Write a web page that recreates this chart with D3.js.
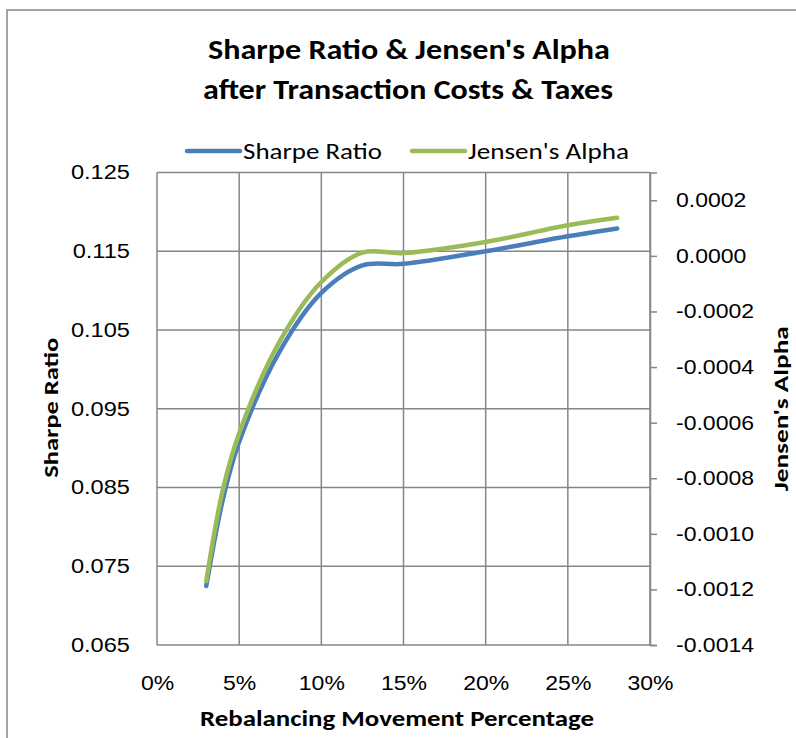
<!DOCTYPE html>
<html>
<head>
  <meta charset="UTF-8">
  <title>Sharpe Ratio & Jensen's Alpha</title>
  <script src="https://d3js.org/d3.v7.min.js"></script>
  <style>
    body { margin: 0; padding: 0; background: #fff; }
    svg { display: block; font-family: Carlito, Calibri, Lato, sans-serif; }
    .grid line { stroke: #868686; stroke-width: 1.5; }
    .axis path, .axis line { stroke: #868686; stroke-width: 1.5; }
    .axis text { font-size: 20px; fill: #000; }
    .line { fill: none; stroke-width: 4.5; stroke-linecap: round; }
  </style>
</head>
<body>
  <div id="chart"></div>
  <script>
    // rebalancing movement (%) and the two measured series
    const movePct = [3, 4, 5, 7.5, 10, 12.5, 15, 20, 25, 28];
    const sharpeRatio = [0.0725, 0.0834, 0.0908, 0.1024, 0.1097, 0.1132, 0.1134, 0.1150, 0.1169, 0.1179];
    const jensensAlpha = [-0.00117, -0.000843, -0.000638, -0.000304, -0.000094, 0.000012, 0.00001, 0.00005, 0.00011, 0.000137];

    const xTicks = [0, 5, 10, 15, 20, 25, 30];
    const leftTicks = [0.065, 0.075, 0.085, 0.095, 0.105, 0.115, 0.125];
    const rightTicks = [-0.0014, -0.0012, -0.0010, -0.0008, -0.0006, -0.0004, -0.0002, 0.0000, 0.0002];

    const seriesNames = ["Sharpe Ratio", "Jensen's Alpha"];
    const seriesColors = ["#4A7EBB", "#9BBB59"];

    const width = 796, height = 738;
    const margin = { top: 172.5, right: 146, bottom: 93, left: 157 };
    const w = width - margin.left - margin.right;
    const h = height - margin.top - margin.bottom;

    // the reference text is wider than Lato, so stretch it a bit
    function stretch(sel, k) {
      sel.each(function () {
        const len = this.getComputedTextLength();
        d3.select(this).attr("textLength", len * k).attr("lengthAdjust", "spacingAndGlyphs");
      });
    }
    function fit(sel, len) {
      sel.attr("textLength", len).attr("lengthAdjust", "spacingAndGlyphs");
    }

    const svg = d3.select("#chart").append("svg")
      .attr("width", width)
      .attr("height", height);

    // outer chart border (runs off the right and bottom of the picture)
    svg.append("rect")
      .attr("x", 7).attr("y", 10)
      .attr("width", 800).attr("height", 740)
      .attr("fill", "none")
      .attr("stroke", "#868686")
      .attr("stroke-width", 1.5);

    const g = svg.append("g")
      .attr("transform", `translate(${margin.left},${margin.top})`);

    const x = d3.scaleLinear().domain([0, 30]).range([0, w]);
    const yL = d3.scaleLinear().domain([0.065, 0.125]).range([h, 0]);
    const yR = d3.scaleLinear().domain([-0.0014, 0.0003]).range([h, 0]);

    // gridlines
    g.append("g").attr("class", "grid")
      .selectAll("line").data(leftTicks).join("line")
      .attr("x1", 0).attr("x2", w)
      .attr("y1", d => yL(d)).attr("y2", d => yL(d));
    g.append("g").attr("class", "grid")
      .selectAll("line").data(xTicks).join("line")
      .attr("x1", d => x(d)).attr("x2", d => x(d))
      .attr("y1", 0).attr("y2", h);

    // left axis: labels only
    g.append("g").attr("class", "axis")
      .call(d3.axisLeft(yL).tickValues(leftTicks).tickSize(0).tickPadding(27).tickFormat(d3.format(".3f")))
      .call(s => s.select(".domain").remove())
      .call(s => stretch(s.selectAll("text"), 1.18));

    // right axis with outward ticks
    g.append("g").attr("class", "axis")
      .attr("transform", `translate(${w},0)`)
      .call(d3.axisRight(yR).tickValues(rightTicks).tickSizeInner(7).tickSizeOuter(7).tickPadding(19)
        .tickFormat(d => d3.format(".4f")(d).replace("−", "-")))
      .call(s => stretch(s.selectAll("text"), 1.15));

    // bottom axis
    g.append("g").attr("class", "axis")
      .attr("transform", `translate(0,${h})`)
      .call(d3.axisBottom(x).tickValues(xTicks).tickSize(0).tickPadding(31).tickFormat(d => d + "%"))
      .call(s => s.select(".domain").remove())
      .call(s => stretch(s.selectAll("text"), 1.15));

    const pts = movePct.map((m, i) => ({ m, s: sharpeRatio[i], a: jensensAlpha[i] }));

    g.append("path").datum(pts)
      .attr("class", "line")
      .attr("stroke", seriesColors[0])
      .attr("d", d3.line().curve(d3.curveCatmullRom).x(d => x(d.m)).y(d => yL(d.s)));

    g.append("path").datum(pts)
      .attr("class", "line")
      .attr("stroke", seriesColors[1])
      .attr("d", d3.line().curve(d3.curveCatmullRom).x(d => x(d.m)).y(d => yR(d.a)));

    // title
    svg.append("text")
      .attr("x", 409).attr("y", 59)
      .attr("text-anchor", "middle")
      .attr("font-size", 28).attr("font-weight", "bold")
      .text("Sharpe Ratio & Jensen's Alpha")
      .call(fit, 402);
    svg.append("text")
      .attr("x", 408).attr("y", 99)
      .attr("text-anchor", "middle")
      .attr("font-size", 28).attr("font-weight", "bold")
      .text("after Transaction Costs & Taxes")
      .call(fit, 410);

    // legend
    const legendX = [187, 412];
    const legendLen = [139, 161];
    seriesNames.forEach((name, i) => {
      svg.append("line")
        .attr("x1", legendX[i]).attr("x2", legendX[i] + 53)
        .attr("y1", 151).attr("y2", 151)
        .attr("stroke", seriesColors[i])
        .attr("stroke-width", 4.5)
        .attr("stroke-linecap", "round");
      svg.append("text")
        .attr("x", legendX[i] + 56).attr("y", 159)
        .attr("font-size", 22)
        .text(name)
        .call(fit, legendLen[i]);
    });

    // axis titles
    svg.append("text")
      .attr("text-anchor", "middle")
      .attr("font-size", 21).attr("font-weight", "bold")
      .attr("transform", `translate(58,${margin.top + h / 2 - 1}) rotate(-90)`)
      .text("Sharpe Ratio")
      .call(fit, 140);
    svg.append("text")
      .attr("text-anchor", "middle")
      .attr("font-size", 21).attr("font-weight", "bold")
      .attr("transform", `translate(788,${margin.top + h / 2}) rotate(-90)`)
      .text("Jensen's Alpha")
      .call(fit, 165);
    svg.append("text")
      .attr("text-anchor", "middle")
      .attr("x", 397).attr("y", 726)
      .attr("font-size", 22).attr("font-weight", "bold")
      .text("Rebalancing Movement Percentage")
      .call(fit, 394);
  </script>
</body>
</html>
